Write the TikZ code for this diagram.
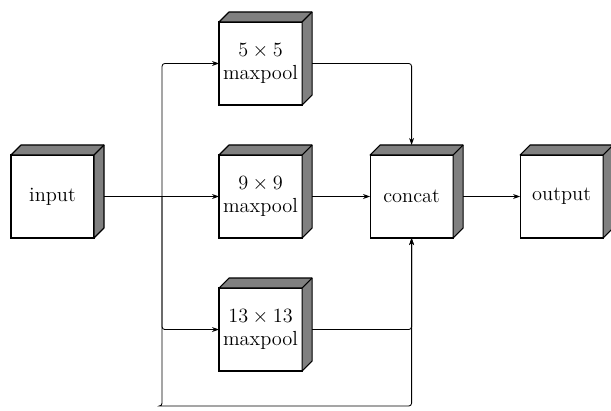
\documentclass[tikz,border=0pt]{standalone}
\usetikzlibrary{arrows.meta, positioning, calc}

\begin{document}
\begin{tikzpicture}[
	x=0.025cm, y=-0.025cm,
	cube/.style={rectangle, draw, thick, fill=white, minimum size=2.075cm, inner sep=0pt, outer sep=0pt, align=center, font=\fontsize{14.5}{16}\selectfont},
	side/.style={draw, thick, fill=black!50, line join=round},
	arrow/.style={-{Stealth[length=5pt, width=3.5pt]}, line width=.6pt, rounded corners=2pt}
	]
	\useasboundingbox (0,0) rectangle (611,410);
	\node[cube] (input) at (52.5,196.5) {input};
	\node[cube, right=3.125cm of input] (pool9) {$9\times 9$\\maxpool};
	\node[cube, above=1.25cm of pool9] (pool5) {$5\times 5$\\maxpool};
	\node[cube, below=1.25cm of pool9] (pool13) {$13\times 13$\\maxpool};
	\node[cube, right=1.7cm of pool9] (concat) {concat};
	\node[cube, right=1.675cm of concat] (output) {output};
	% depth faces of the blocks
	\foreach \n in {input, pool5, pool9, pool13, concat, output} {
		\filldraw[side] (\n.north west) -- ++(0.25cm,0.25cm) -- ($(\n.north east)+(0.25cm,0.25cm)$) -- ($(\n.south east)+(0.25cm,0.25cm)$) -- (\n.south east) -- (\n.north east) -- cycle;
		\draw[thick] (\n.north east) -- ++(0.25cm,0.25cm);
	}
	\coordinate[right=1.7cm of input] (split);
	\coordinate (loop) at (162,406);
	\draw[arrow] ([xshift=0.25cm]input.east) -- (pool9.west);
	\draw[arrow] (split) |- (pool5.west);
	\draw[arrow] (split) |- (pool13.west);
	\draw[arrow] (split) |- (loop) -| (concat.south);
	\draw[arrow] ([xshift=0.25cm]pool5.east) -| ([yshift=0.25cm]concat.north);
	\draw[arrow] ([xshift=0.25cm]pool9.east) -- (concat.west);
	\draw[arrow] ([xshift=0.25cm]pool13.east) -| (concat.south);
	\draw[arrow] ([xshift=0.25cm]concat.east) -- (output.west);
\end{tikzpicture}
\end{document}
